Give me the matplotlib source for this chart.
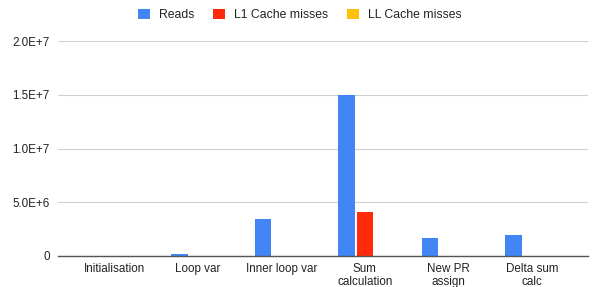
import matplotlib
matplotlib.use("Agg")
import matplotlib.pyplot as plt
import numpy as np

categories = ["Initialisation", "Loop var", "Inner loop var", "Sum\ncalculation", "New PR\nassign", "Delta sum\ncalc"]
reads = [0, 2.2e5, 3.43e6, 1.5e7, 1.63e6, 1.96e6]
l1_misses = [0, 0, 0, 4.08e6, 0, 0]
ll_misses = [0, 0, 0, 0, 0, 0]
series_names = ["Reads", "L1 Cache misses", "LL Cache misses"]
colors = ["#4285F4", "#FF2A0A", "#FFC107"]
yticks = [0, 5e6, 1e7, 1.5e7, 2e7]
yticklabels = ["0", "5.0E+6", "1.0E+7", "1.5E+7", "2.0E+7"]

plt.rcParams['font.family'] = ['Liberation Sans', 'DejaVu Sans']
fig = plt.figure(figsize=(5.97, 2.87), dpi=100)
ax = fig.add_axes([58/597, 1-256/287, 530/597, 215/287])

x = np.arange(len(categories))
w = 0.198
step = 0.219
for k, (vals, name, c) in enumerate(zip([reads, l1_misses, ll_misses], series_names, colors)):
    ax.bar(x + (k-1)*step, vals, width=w, color=c, label=name, zorder=3)

ax.set_xlim(-0.67, 5.67)
ax.set_ylim(0, 2e7)
ax.set_yticks(yticks)
ax.set_yticklabels(yticklabels, fontsize=8.4, color="#222222")
ax.set_xticks(x)
ax.set_xticklabels(categories, fontsize=8.4, color="#222222", linespacing=1.1)
ax.tick_params(axis='both', length=0, pad=6)
ax.tick_params(axis='x', pad=5)
ax.grid(axis='y', color="#d0d0d0", linewidth=0.8, zorder=0)
for s in ["top", "right", "left"]:
    ax.spines[s].set_visible(False)
ax.spines["bottom"].set_color("#555555")
ax.spines["bottom"].set_linewidth(1.0)
ax.spines["bottom"].set_zorder(4)

handles, labels = ax.get_legend_handles_labels()
fig.legend(handles, labels, loc="center", bbox_to_anchor=(300/597, 1-15/287), ncol=3,
           frameon=False, fontsize=8.8, handlelength=0.95, handleheight=0.95,
           handletextpad=0.75, columnspacing=1.55, labelcolor="#222222")

fig.savefig("out.png", dpi=100)
